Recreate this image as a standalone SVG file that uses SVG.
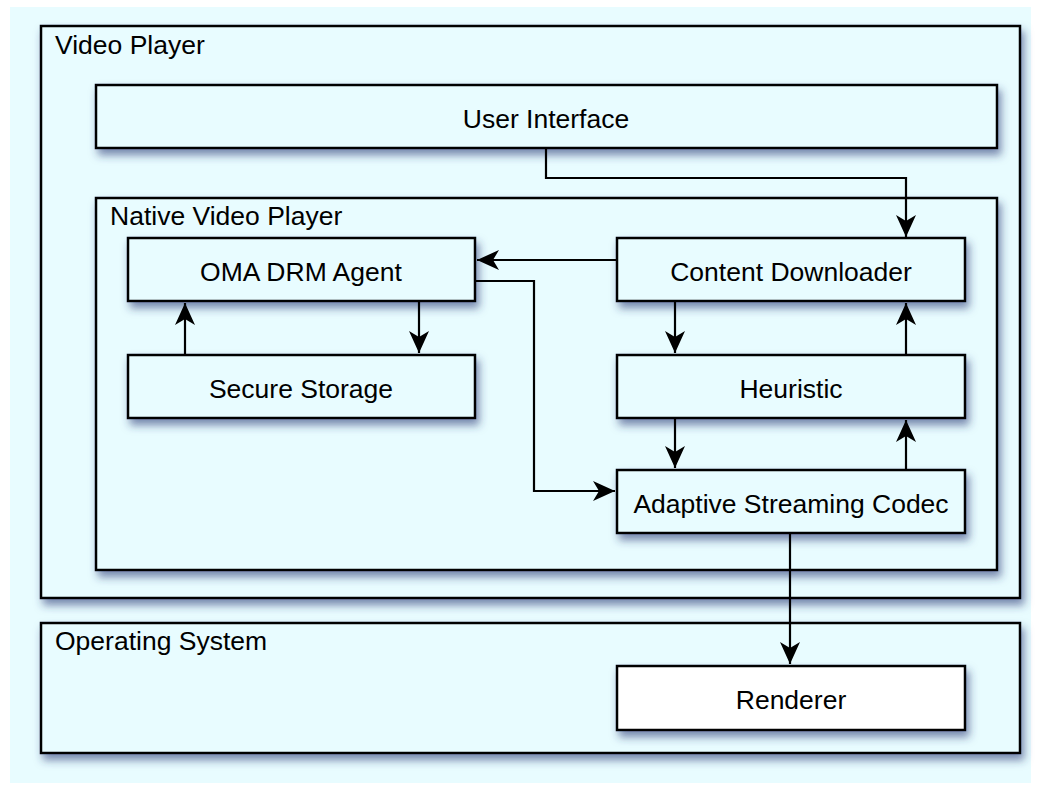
<svg xmlns="http://www.w3.org/2000/svg" width="1041" height="788" viewBox="0 0 1041 788">
<defs>
<filter id="sh" x="-10%" y="-10%" width="130%" height="140%">
<feDropShadow dx="3" dy="6" stdDeviation="4" flood-color="#2a3a78" flood-opacity="0.6"/>
</filter>
<marker id="ah" markerWidth="24" markerHeight="20" viewBox="0 0 24 20" refX="22" refY="10" orient="auto" markerUnits="userSpaceOnUse">
<path d="M0,0 L22,10 L0,20 L6,10 Z" fill="#000"/>
</marker>
</defs>
<style>
.box{fill:#e8fcff;stroke:#000;stroke-width:2.5;filter:url(#sh)}
.white{fill:#ffffff}
.t{font-family:"Liberation Sans",Arial,sans-serif;font-size:26.5px;fill:#000}
.c{text-anchor:middle}
.ln{fill:none;stroke:#000;stroke-width:2.2;marker-end:url(#ah)}
</style>
<rect x="10" y="7" width="1021" height="776" fill="#e8fcff"/>
<g id="video-player">
<rect class="box" x="41" y="26" width="979" height="572"/>
<text class="t" x="55" y="54">Video Player</text>
</g>
<g id="user-interface">
<rect class="box" x="96" y="85" width="901" height="63"/>
<text class="t c" x="546" y="128">User Interface</text>
</g>
<g id="native-video-player">
<rect class="box" x="96" y="198" width="901" height="372"/>
<text class="t" x="110" y="225">Native Video Player</text>
</g>
<g id="oma-drm-agent">
<rect class="box" x="128" y="238" width="347" height="63"/>
<text class="t c" x="301" y="281">OMA DRM Agent</text>
</g>
<g id="content-downloader">
<rect class="box" x="617" y="238" width="348" height="63"/>
<text class="t c" x="791" y="281">Content Downloader</text>
</g>
<g id="secure-storage">
<rect class="box" x="128" y="355" width="347" height="63"/>
<text class="t c" x="301" y="398">Secure Storage</text>
</g>
<g id="heuristic">
<rect class="box" x="617" y="355" width="348" height="63"/>
<text class="t c" x="791" y="398">Heuristic</text>
</g>
<g id="adaptive-streaming-codec">
<rect class="box" x="617" y="470" width="348" height="63"/>
<text class="t c" x="791" y="513">Adaptive Streaming Codec</text>
</g>
<g id="operating-system">
<rect class="box" x="41" y="623" width="979" height="130"/>
<text class="t" x="55" y="650">Operating System</text>
</g>
<g id="renderer">
<rect class="box white" x="617" y="666" width="348" height="64"/>
<text class="t c" x="791" y="709">Renderer</text>
</g>
<g id="connectors">
<path class="ln" d="M546,149 V178 H906 V237"/>
<path class="ln" d="M616,260 H477"/>
<path class="ln" d="M476,281 H534 V491 H615"/>
<path class="ln" d="M419,302 V353"/>
<path class="ln" d="M185,354 V303"/>
<path class="ln" d="M675,302 V353"/>
<path class="ln" d="M906,354 V303"/>
<path class="ln" d="M675,419 V468"/>
<path class="ln" d="M906,469 V420"/>
<path class="ln" d="M790,534 V664"/>
</g>
</svg>
